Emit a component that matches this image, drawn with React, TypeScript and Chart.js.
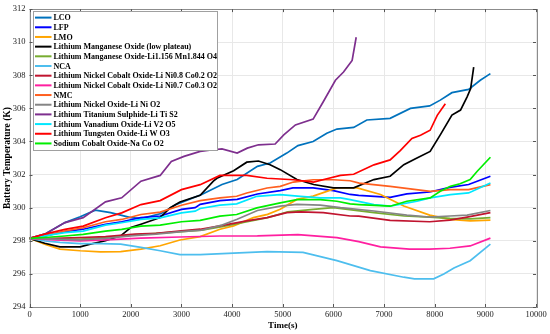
import React, { useEffect, useRef } from "react";
import { Chart, registerables } from "chart.js";

Chart.register(...registerables);

// [time (s), temperature (K)]
const lco = [[0,298.15],[300,298.4],[700,299.1],[1000,299.45],[1300,299.85],[1600,299.7],[2000,299.4],[2200,299.35],[2600,299.65],[2900,300.2],[3400,300.8],[3800,301.4],[4100,301.7],[4500,302.5],[4750,302.7],[5080,303.3],[5300,303.75],[5600,304.0],[5870,304.5],[6070,304.75],[6400,304.85],[6660,305.3],[7120,305.4],[7520,306.0],[7900,306.15],[8110,306.5],[8340,306.95],[8670,307.15],[8900,307.7],[9100,308.1]];
const lfp = [[0,298.15],[300,298.3],[700,298.55],[1060,298.7],[1500,299.0],[1820,299.15],[2200,299.4],[2580,299.5],[3000,299.9],[3270,300.0],[3370,300.2],[3760,300.43],[4100,300.5],[4500,300.83],[4950,301.03],[5200,301.2],[5600,301.2],[6000,301.03],[6330,300.8],[6500,300.75],[7120,300.63],[7450,300.83],[7900,300.95],[8300,301.23],[8670,301.4],[9100,301.9]];
const lmo = [[0,298.15],[300,297.8],[600,297.5],[1000,297.4],[1400,297.33],[1800,297.35],[2200,297.5],[2580,297.7],[2970,298.05],[3370,298.25],[3760,298.7],[4030,298.9],[4420,299.4],[4700,299.6],[4950,299.9],[5280,300.5],[5600,300.7],[6070,301.2],[6470,301.2],[6930,300.8],[7390,300.1],[7900,299.55],[8300,299.3],[8700,299.2],[9100,299.25]];
const lmoLow = [[0,298.15],[300,297.85],[600,297.63],[1000,297.63],[1200,297.8],[1500,298.0],[1800,298.3],[2000,298.8],[2200,299.0],[2580,299.4],[2780,300.0],[2970,300.35],[3370,300.75],[3630,301.6],[3700,301.78],[4030,302.23],[4290,302.75],[4520,302.82],[4750,302.6],[4950,302.3],[5280,301.7],[5610,301.4],[6000,301.2],[6400,301.2],[6800,301.7],[7120,301.9],[7390,302.6],[7650,303.0],[7910,303.4],[8110,304.4],[8340,305.6],[8510,305.9],[8640,306.7],[8710,307.2],[8770,308.5]];
const lmoLi = [[0,298.15],[500,298.1],[1000,298.1],[1500,298.2],[2000,298.35],[2500,298.45],[3000,298.55],[3400,298.65],[3800,298.85],[4300,299.15],[4700,299.4],[5100,299.75],[5600,299.9],[6000,300.0],[6400,299.85],[6800,299.7],[7400,299.5],[7900,299.43],[8300,299.35],[8700,299.33],[9100,299.4]];
const nca = [[0,298.15],[300,298.0],[600,297.9],[1000,297.83],[1400,297.83],[1800,297.8],[2200,297.6],[2580,297.4],[2970,297.16],[3370,297.16],[4030,297.26],[4690,297.35],[5400,297.3],[6070,296.8],[6730,296.2],[7390,295.8],[7600,295.7],[7980,295.7],[8180,296.0],[8380,296.36],[8700,296.8],[9100,297.8]];
const nco82 = [[0,298.15],[500,298.15],[1000,298.2],[1500,298.25],[2085,298.4],[2500,298.45],[3000,298.6],[3370,298.7],[3760,298.9],[4290,299.2],[4690,299.4],[5080,299.7],[5350,299.75],[5800,299.7],[6330,299.5],[6500,299.49],[7120,299.23],[7900,299.15],[8300,299.25],[8640,299.43],[9100,299.7]];
const nco73 = [[0,298.15],[500,298.05],[1000,298.0],[1500,298.05],[2200,298.16],[2970,298.23],[3760,298.29],[4500,298.3],[5300,298.37],[6070,298.19],[6500,297.95],[6930,297.63],[7500,297.5],[7900,297.5],[8300,297.55],[8700,297.69],[9100,298.16]];
const nmc = [[0,298.15],[300,298.3],[700,298.59],[1060,298.79],[1500,299.15],[1820,299.29],[2200,299.59],[2580,299.73],[3000,300.15],[3370,300.43],[3760,300.59],[4090,300.69],[4290,300.89],[4690,301.19],[4950,301.29],[5210,301.55],[5600,301.69],[6000,301.69],[6330,301.63],[6510,301.49],[7120,301.29],[7910,300.99],[8310,301.09],[8670,301.09],[9100,301.39]];
const lno = [[0,298.15],[500,298.1],[1000,298.05],[1500,298.15],[2000,298.3],[2500,298.4],[3000,298.55],[3400,298.65],[3800,298.95],[4100,299.3],[4500,299.83],[4950,300.09],[5280,300.2],[5740,300.15],[6140,300.0],[6800,299.8],[7450,299.55],[7900,299.43],[8300,299.5],[8640,299.55],[9100,299.83]];
const lts = [[0,298.15],[300,298.4],[700,299.1],[1060,299.4],[1500,300.35],[1820,300.6],[2200,301.6],[2580,301.95],[2800,302.8],[3050,303.1],[3370,303.4],[3630,303.5],[3800,303.55],[4100,303.3],[4300,303.6],[4520,303.8],[4850,303.85],[5020,304.4],[5250,305.0],[5600,305.35],[5800,306.4],[6040,307.7],[6200,308.2],[6370,308.9],[6450,310.3]];
const lvo = [[0,298.15],[300,298.3],[700,298.49],[1060,298.59],[1500,298.95],[1820,299.09],[2200,299.29],[2580,299.39],[3000,299.69],[3270,299.79],[3370,299.95],[3760,300.15],[4090,300.23],[4490,300.69],[4950,300.79],[5350,300.69],[5740,300.59],[6140,300.59],[6330,300.49],[6800,300.19],[7120,300.09],[7650,300.39],[7910,300.59],[8310,300.79],[8670,300.89],[9100,301.49]];
const lwo = [[0,298.15],[300,298.4],[700,298.69],[1060,298.89],[1500,299.39],[1820,299.69],[2200,300.19],[2580,300.43],[3000,301.09],[3370,301.39],[3760,301.95],[4290,301.95],[4690,301.78],[5210,301.69],[5610,301.55],[5870,301.75],[6140,301.95],[6400,302.02],[6800,302.59],[7120,302.89],[7320,303.45],[7550,304.18],[7720,304.38],[7910,304.68],[8050,305.58],[8210,306.28]];
const nco = [[0,298.15],[300,298.2],[700,298.29],[1060,298.39],[1500,298.59],[1820,298.69],[2200,298.89],[2580,298.95],[3000,299.15],[3370,299.23],[3760,299.49],[4090,299.59],[4490,299.99],[4950,300.29],[5280,300.49],[5740,300.49],[6070,300.39],[6330,300.23],[6510,300.19],[7120,300.09],[7450,300.39],[7910,300.59],[8110,300.99],[8310,301.29],[8500,301.45],[8700,301.7],[8840,302.2],[9100,303.05]];

const seriesLabels = [
  "LCO",
  "LFP",
  "LMO",
  "Lithium Manganese Oxide (low plateau)",
  "Lithium Manganese Oxide-Li1.156 Mn1.844 O4",
  "NCA",
  "Lithium Nickel Cobalt Oxide-Li Ni0.8 Co0.2 O2",
  "Lithium Nickel Cobalt Oxide-Li Ni0.7 Co0.3 O2",
  "NMC",
  "Lithium Nickel Oxide-Li Ni O2",
  "Lithium Titanium Sulphide-Li Ti S2",
  "Lithium Vanadium Oxide-Li V2 O5",
  "Lithium Tungsten Oxide-Li W O3",
  "Sodium Cobalt Oxide-Na Co O2",
];
const seriesData = [lco, lfp, lmo, lmoLow, lmoLi, nca, nco82, nco73, nmc, lno, lts, lvo, lwo, nco];
const seriesColors = [
  "#0072BD", "#0000FF", "#FFA500", "#000000", "#77AC30", "#4DBEEE", "#C0142F",
  "#FF1FA0", "#FF5F1F", "#858585", "#7E2F8E", "#00E8FF", "#FF0000", "#00EE00",
];

const xTicks = [0, 1000, 2000, 3000, 4000, 5000, 6000, 7000, 8000, 9000, 10000];
const yTicks = [294, 296, 298, 300, 302, 304, 306, 308, 310, 312];

const SERIF = '"Liberation Serif", "Times New Roman", serif';

const framePlugin = {
  id: "frame",
  afterDatasetsDraw(chart: any) {
    const { ctx, chartArea: a, scales } = chart;
    ctx.save();
    ctx.strokeStyle = "#8c8c8c";
    ctx.lineWidth = 1;
    ctx.strokeRect(Math.round(a.left) + 0.5, Math.round(a.top) + 0.5, Math.round(a.right - a.left), Math.round(a.bottom - a.top));
    ctx.strokeStyle = "#555";
    ctx.beginPath();
    xTicks.forEach((v) => {
      const x = Math.round(scales.x.getPixelForValue(v)) + 0.5;
      ctx.moveTo(x, a.bottom); ctx.lineTo(x, a.bottom - 3);
      ctx.moveTo(x, a.top); ctx.lineTo(x, a.top + 3);
    });
    yTicks.forEach((v) => {
      const y = Math.round(scales.y.getPixelForValue(v)) + 0.5;
      ctx.moveTo(a.left, y); ctx.lineTo(a.left + 3, y);
      ctx.moveTo(a.right, y); ctx.lineTo(a.right - 3, y);
    });
    ctx.stroke();
    ctx.restore();
  },
};

const legendPlugin = {
  id: "insideLegend",
  afterDraw(chart: any) {
    const { ctx, chartArea: a } = chart;
    const x0 = a.left + 3.5, y0 = a.top + 2, w = 184, h = 139;
    ctx.save();
    ctx.fillStyle = "#ffffff";
    ctx.fillRect(x0, y0, w, h);
    ctx.strokeStyle = "#a0a0a0";
    ctx.lineWidth = 1;
    ctx.strokeRect(Math.round(x0) + 0.5, Math.round(y0) + 0.5, w, h);
    ctx.font = "bold 8px " + SERIF;
    ctx.textBaseline = "middle";
    ctx.textAlign = "left";
    chart.data.datasets.forEach((ds: any, i: number) => {
      const y = y0 + 6.5 + i * 9.68;
      ctx.strokeStyle = ds.borderColor;
      ctx.lineWidth = 2;
      ctx.beginPath();
      ctx.moveTo(x0 + 2, y);
      ctx.lineTo(x0 + 18.5, y);
      ctx.stroke();
      ctx.fillStyle = "#000";
      ctx.fillText(ds.label, x0 + 20.5, y + 0.5);
    });
    ctx.restore();
  },
};

export default function App() {
  const ref = useRef<HTMLCanvasElement | null>(null);
  useEffect(() => {
    if (!ref.current) return;
    const chart = new Chart(ref.current, {
      type: "line",
      data: {
        datasets: seriesData.map((d, i) => ({
          label: seriesLabels[i],
          data: d.map(([t, v]) => ({ x: t, y: v })),
          borderColor: seriesColors[i],
          backgroundColor: seriesColors[i],
          borderWidth: 1.7,
          pointRadius: 0,
          tension: 0,
          fill: false,
          order: -i,
        })),
      },
      options: {
        responsive: false,
        animation: false,
        events: [],
        layout: { padding: { top: 6, right: 14, left: 0, bottom: 0 } },
        plugins: { legend: { display: false }, tooltip: { enabled: false } },
        scales: {
          x: {
            type: "linear",
            min: 0,
            max: 10000,
            afterFit: (s: any) => { s.height = 27; },
            afterBuildTicks: (s: any) => { s.ticks = xTicks.map((v) => ({ value: v })); },
            ticks: { padding: 3, color: "#222", font: { family: SERIF, size: 8.5 }, maxRotation: 0, autoSkip: false, callback: (v: any) => String(v) },
            grid: { color: "#e8e8e8", drawTicks: false, lineWidth: 1 },
            border: { display: false },
            title: { display: true, text: "Time(s)", color: "#000", font: { family: SERIF, size: 9, weight: "bold" }, padding: { top: 0, bottom: 3 } },
          },
          y: {
            type: "linear",
            min: 294,
            max: 312,
            afterFit: (s: any) => { s.width = 29.5; },
            afterBuildTicks: (s: any) => { s.ticks = yTicks.map((v) => ({ value: v })); },
            ticks: { padding: 4, color: "#222", font: { family: SERIF, size: 8.5 }, autoSkip: false, callback: (v: any) => String(v) },
            grid: { color: "#e8e8e8", drawTicks: false, lineWidth: 1 },
            border: { display: false },
            title: { display: true, text: "Battery Temperature (K)", color: "#000", font: { family: SERIF, size: 9.5, weight: "bold" }, padding: { top: 2, bottom: 0 } },
          },
        },
      },
      plugins: [framePlugin, legendPlugin],
    } as any);
    return () => chart.destroy();
  }, []);
  return (
    <div style={{ position: "fixed", left: 0, top: 0, width: 550, height: 334, background: "#fff" }}>
      <canvas ref={ref} width={550} height={334} style={{ display: "block" }} />
    </div>
  );
}
